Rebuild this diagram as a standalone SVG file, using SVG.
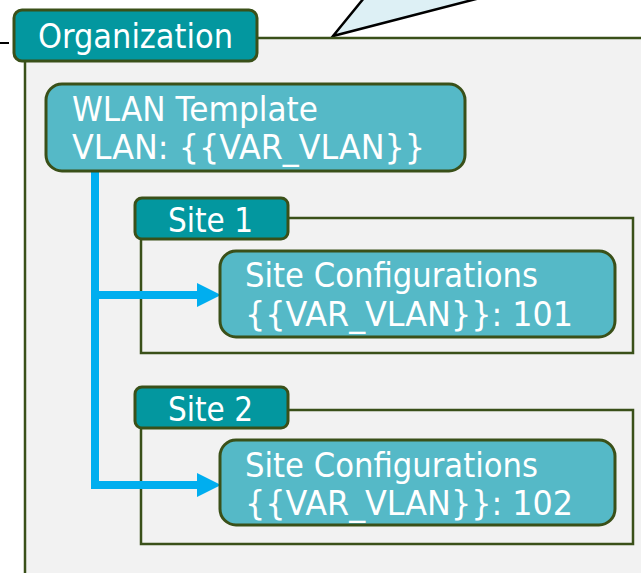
<svg xmlns="http://www.w3.org/2000/svg" width="641" height="573" viewBox="0 0 641 573">
  <defs>
    <style>
      .tab { fill: #03979f; stroke: #3a5019; stroke-width: 3; }
      .box { fill: #55b9c7; stroke: #3a5019; stroke-width: 3; }
      .frame { fill: none; stroke: #3a5019; stroke-width: 2.5; }
      .t { font-family: "DejaVu Sans", "Noto Sans", sans-serif; font-size: 33px; fill: #ffffff; }
      .conn { fill: none; stroke: #00aeef; stroke-width: 8; }
      .head { fill: #00aeef; }
    </style>
  </defs>
  <rect x="0" y="0" width="641" height="573" fill="#ffffff"/>
  <!-- callout -->
  <polygon points="333,36 364,-2 480,-2" fill="#ddf0f5" stroke="#000000" stroke-width="2.5"/>
  <line x1="0" y1="43" x2="9" y2="43" stroke="#000000" stroke-width="2"/>

  <g id="organization">
    <rect x="25" y="38" width="620" height="540" fill="#f2f2f2"/>
    <polyline class="frame" points="257,38 645,38"/>
    <line class="frame" x1="25" y1="60" x2="25" y2="575"/>
    <rect class="tab" x="14" y="10" width="243" height="51" rx="8"/>
    <text class="t" x="38" y="48" textLength="195" lengthAdjust="spacingAndGlyphs">Organization</text>
  </g>

  <g id="site1">
    <polyline class="frame" points="288,218 633,218 633,353 141,353 141,239"/>
    <rect class="tab" x="135" y="198" width="153" height="41" rx="7"/>
    <text class="t" x="168" y="232" textLength="85" lengthAdjust="spacingAndGlyphs">Site 1</text>
  </g>

  <g id="site2">
    <polyline class="frame" points="288,410 633,410 633,544 141,544 141,428"/>
    <rect class="tab" x="135" y="387" width="153" height="41" rx="7"/>
    <text class="t" x="168" y="421" textLength="85" lengthAdjust="spacingAndGlyphs">Site 2</text>
  </g>

  <g id="connectors">
    <polyline class="conn" points="95,171 95,485 199,485"/>
    <line class="conn" x1="95" y1="295" x2="199" y2="295"/>
    <polygon class="head" points="197,283 221,295 197,307"/>
    <polygon class="head" points="197,473 221,485 197,497"/>
  </g>

  <g id="wlan-template">
    <rect class="box" x="46" y="84" width="419" height="87" rx="16"/>
    <text class="t" x="72" y="121" textLength="246" lengthAdjust="spacingAndGlyphs">WLAN Template</text>
    <text class="t" x="72" y="159" textLength="353" lengthAdjust="spacingAndGlyphs">VLAN: {{VAR_VLAN}}</text>
  </g>

  <g id="site1-config">
    <rect class="box" x="220" y="251" width="395" height="86" rx="16"/>
    <text class="t" x="245" y="287" textLength="293" lengthAdjust="spacingAndGlyphs">Site Configurations</text>
    <text class="t" x="245" y="326" textLength="328" lengthAdjust="spacingAndGlyphs">{{VAR_VLAN}}: 101</text>
  </g>

  <g id="site2-config">
    <rect class="box" x="220" y="440" width="395" height="85" rx="16"/>
    <text class="t" x="245" y="477" textLength="293" lengthAdjust="spacingAndGlyphs">Site Configurations</text>
    <text class="t" x="245" y="515" textLength="328" lengthAdjust="spacingAndGlyphs">{{VAR_VLAN}}: 102</text>
  </g>
</svg>
